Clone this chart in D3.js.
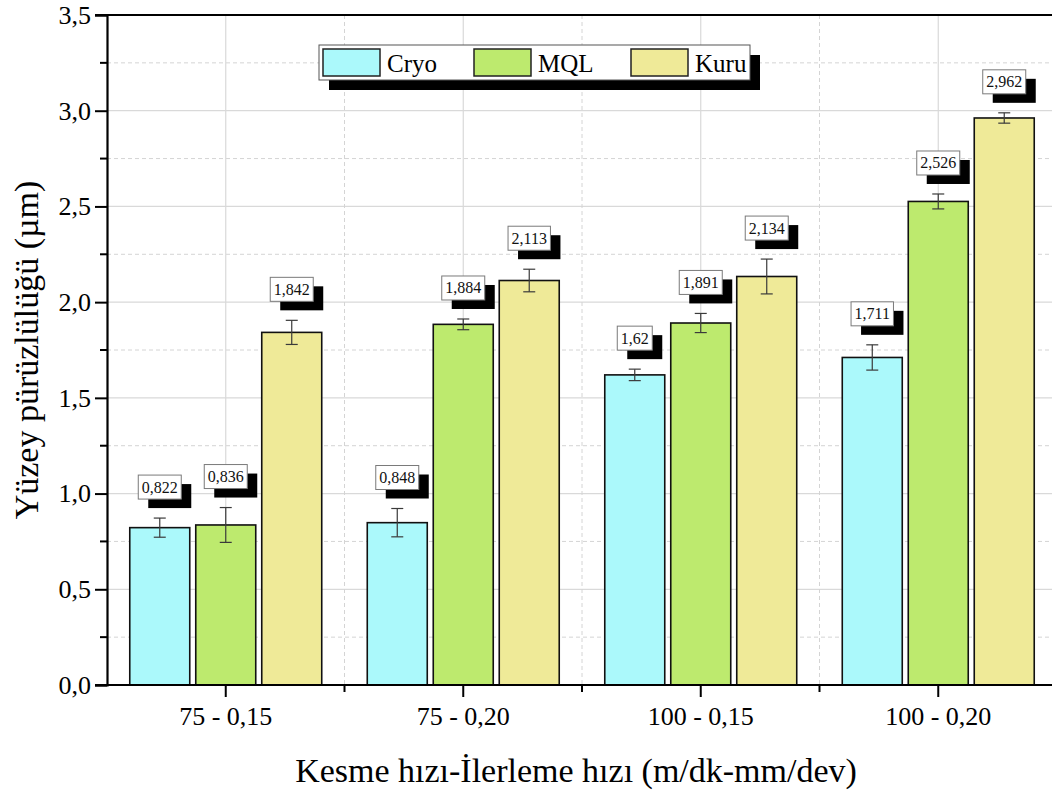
<!DOCTYPE html>
<html>
<head>
<meta charset="utf-8">
<script src="https://cdn.jsdelivr.net/npm/d3@7"></script>
<style>
  html, body { margin: 0; padding: 0; background: #fff; }
  svg { display: block; }
  svg text { font-family: "Liberation Serif", "Times New Roman", serif !important; }
</style>
</head>
<body>
<svg id="chart" width="1052" height="796"></svg>
<script>
// Cutting conditions (cutting speed - feed rate)
const categories = ["75 - 0,15", "75 - 0,20", "100 - 0,15", "100 - 0,20"];
const seriesNames = ["Cryo", "MQL", "Kuru"];
const seriesColors = ["#abf9fb", "#bdea6e", "#efea98"];

// Mean surface roughness per series, one value per category
const cryoValues = [0.822, 0.848, 1.62, 1.711];
const mqlValues  = [0.836, 1.884, 1.891, 2.526];
const kuruValues = [1.842, 2.113, 2.134, 2.962];

// Standard deviations (error bars)
const cryoErrors = [0.05, 0.074, 0.03, 0.066];
const mqlErrors  = [0.091, 0.028, 0.05, 0.039];
const kuruErrors = [0.063, 0.059, 0.091, 0.027];

const yTickValues = [0, 0.5, 1.0, 1.5, 2.0, 2.5, 3.0, 3.5];

const valuesBySeries = [cryoValues, mqlValues, kuruValues];
const errorsBySeries = [cryoErrors, mqlErrors, kuruErrors];

const svg = d3.select("#chart");
const plotLeft = 107, plotTop = 15, plotBottom = 685;
const step = 237.5;
const plotRight = plotLeft + step * categories.length;

const x0 = d3.scaleBand().domain(categories).range([plotLeft, plotRight]).paddingInner(0).paddingOuter(0);
const x1 = d3.scaleBand().domain(seriesNames).range([0, x0.bandwidth()])
  .paddingInner(0.0909).paddingOuter(0.345);
const y = d3.scaleLinear().domain([0, 3.5]).range([plotBottom, plotTop]);

const fmt = v => String(v).replace(".", ",");

// Grid lines
const grid = svg.append("g");
const minorY = d3.range(0.25, 3.5, 0.5);
grid.selectAll("line.hmaj").data(yTickValues.filter(v => v > 0 && v < 3.5)).enter().append("line")
  .attr("x1", plotLeft).attr("x2", 1052).attr("y1", d => y(d)).attr("y2", d => y(d))
  .attr("stroke", "#d9d9d9").attr("stroke-width", 1.2);
grid.selectAll("line.hmin").data(minorY).enter().append("line")
  .attr("x1", plotLeft).attr("x2", 1052).attr("y1", d => y(d)).attr("y2", d => y(d))
  .attr("stroke", "#d4d4d4").attr("stroke-width", 1).attr("stroke-dasharray", "4,3");
grid.selectAll("line.vmaj").data(categories).enter().append("line")
  .attr("x1", d => x0(d) + x0.bandwidth() / 2).attr("x2", d => x0(d) + x0.bandwidth() / 2)
  .attr("y1", plotTop).attr("y2", plotBottom)
  .attr("stroke", "#d9d9d9").attr("stroke-width", 1.2);
grid.selectAll("line.vmin").data(categories.slice(1)).enter().append("line")
  .attr("x1", d => x0(d)).attr("x2", d => x0(d))
  .attr("y1", plotTop).attr("y2", plotBottom)
  .attr("stroke", "#d4d4d4").attr("stroke-width", 1).attr("stroke-dasharray", "4,3");

// Bars, error bars and value labels
const rows = [];
categories.forEach((c, ci) => {
  seriesNames.forEach((s, si) => {
    rows.push({ cat: c, series: s, si, value: valuesBySeries[si][ci], err: errorsBySeries[si][ci] });
  });
});

const barG = svg.append("g");
barG.selectAll("rect").data(rows).enter().append("rect")
  .attr("x", d => x0(d.cat) + x1(d.series))
  .attr("y", d => y(d.value))
  .attr("width", x1.bandwidth())
  .attr("height", d => y(0) - y(d.value))
  .attr("fill", d => seriesColors[d.si])
  .attr("stroke", "#111").attr("stroke-width", 1.6);

const errG = svg.append("g").attr("stroke", "#3a3a3a").attr("stroke-width", 1.2);
rows.forEach(d => {
  const cx = x0(d.cat) + x1(d.series) + x1.bandwidth() / 2;
  errG.append("line").attr("x1", cx).attr("x2", cx)
    .attr("y1", y(d.value + d.err)).attr("y2", y(d.value - d.err));
  errG.append("line").attr("x1", cx - 6).attr("x2", cx + 6)
    .attr("y1", y(d.value + d.err)).attr("y2", y(d.value + d.err));
  errG.append("line").attr("x1", cx - 6).attr("x2", cx + 6)
    .attr("y1", y(d.value - d.err)).attr("y2", y(d.value - d.err));
});

const labG = svg.append("g");
rows.forEach(d => {
  const cx = x0(d.cat) + x1(d.series) + x1.bandwidth() / 2;
  const g = labG.append("g");
  const t = g.append("text").text(fmt(d.value))
    .attr("font-size", 16).attr("text-anchor", "middle").attr("fill", "#111");
  const w = t.node().getComputedTextLength() + 7;
  const h = 24;
  const bx = cx - w / 2;
  const by = y(d.value + d.err) - 19 - h;
  g.insert("rect", "text").attr("x", bx + 10).attr("y", by + 9).attr("width", w).attr("height", h)
    .attr("fill", "#000");
  g.insert("rect", "text").attr("x", bx).attr("y", by).attr("width", w).attr("height", h)
    .attr("fill", "#fff").attr("stroke", "#7a7a7a").attr("stroke-width", 1);
  t.attr("x", cx).attr("y", by + 17.5);
});

// Axes
const yAxis = d3.axisLeft(y).tickValues(yTickValues).tickSize(12).tickPadding(4)
  .tickFormat(d => d3.format(".1f")(d).replace(".", ","));
const yG = svg.append("g").attr("transform", `translate(${plotLeft},0)`).call(yAxis);
yG.attr("font-family", null);
yG.select(".domain").attr("stroke", "#000").attr("stroke-width", 2.2);
yG.selectAll(".tick line").attr("stroke", "#000").attr("stroke-width", 2);
yG.selectAll(".tick text").attr("font-size", 26).attr("fill", "#000");
yG.selectAll(".minor").data(minorY).enter().append("line").attr("class", "minor")
  .attr("x1", -7).attr("x2", 0).attr("y1", d => y(d)).attr("y2", d => y(d))
  .attr("stroke", "#000").attr("stroke-width", 2);

const xAxis = d3.axisBottom(x0).tickSize(12).tickPadding(10);
const xG = svg.append("g").attr("transform", `translate(0,${plotBottom})`).call(xAxis);
xG.attr("font-family", null);
xG.select(".domain").remove();
xG.append("line").attr("x1", plotLeft - 12).attr("x2", 1052).attr("y1", 0).attr("y2", 0)
  .attr("stroke", "#000").attr("stroke-width", 2.2);
xG.selectAll(".tick line").attr("stroke", "#000").attr("stroke-width", 2);
xG.selectAll(".tick text").attr("font-size", 26).attr("fill", "#000");
xG.selectAll(".minor").data(categories.slice(1)).enter().append("line").attr("class", "minor")
  .attr("x1", d => x0(d)).attr("x2", d => x0(d)).attr("y1", 0).attr("y2", 7)
  .attr("stroke", "#000").attr("stroke-width", 2);

// Top frame line
svg.append("line").attr("x1", plotLeft - 12).attr("x2", 1052).attr("y1", plotTop).attr("y2", plotTop)
  .attr("stroke", "#000").attr("stroke-width", 2.2);

// Axis titles
svg.append("text").text("Kesme hızı-İlerleme hızı (m/dk-mm/dev)")
  .attr("x", (plotLeft + plotRight) / 2 - 6).attr("y", 782).attr("text-anchor", "middle")
  .attr("font-size", 34).attr("fill", "#000");
svg.append("text").text("Yüzey pürüzlülüğü (µm)")
  .attr("transform", `translate(38,${(plotTop + plotBottom) / 2}) rotate(-90)`)
  .attr("text-anchor", "middle").attr("font-size", 34).attr("fill", "#000");

// Legend
const lg = svg.append("g");
lg.append("rect").attr("x", 329).attr("y", 55).attr("width", 431).attr("height", 35).attr("fill", "#000");
lg.append("rect").attr("x", 319).attr("y", 45).attr("width", 431).attr("height", 35)
  .attr("fill", "#fff").attr("stroke", "#555").attr("stroke-width", 1);
const legendX = [323, 474, 631];
seriesNames.forEach((s, i) => {
  lg.append("rect").attr("x", legendX[i]).attr("y", 49).attr("width", 57).attr("height", 27)
    .attr("fill", seriesColors[i]).attr("stroke", "#222").attr("stroke-width", 1.5);
  lg.append("text").text(s).attr("x", legendX[i] + 64).attr("y", 72)
    .attr("font-size", 25).attr("fill", "#000");
});
</script>
</body>
</html>
